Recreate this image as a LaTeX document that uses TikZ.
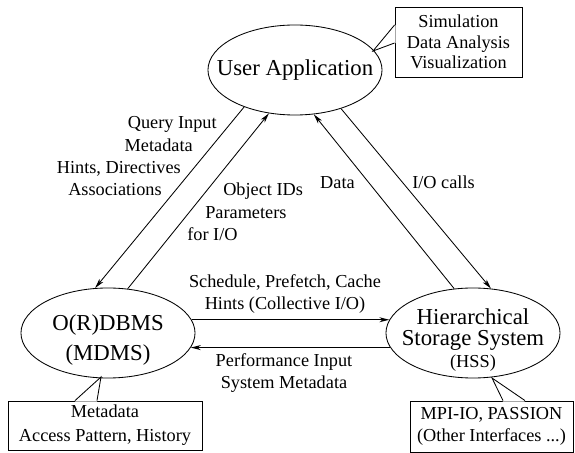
\documentclass[tikz,border=0pt]{standalone}
\usepackage{fontspec}
\setmainfont{Liberation Serif}
\usetikzlibrary{arrows.meta, shapes.geometric}

\tikzset{
  proc/.style={draw, ellipse, line width=0.6pt, minimum width=4.35cm, minimum height=2.25cm, inner sep=0pt},
  proctext/.style={align=center, inner sep=0pt, font=\fontsize{16.2}{15}\selectfont},
  note/.style={draw, line width=0.6pt, align=center, inner sep=0pt, font=\fontsize{13}{15.5}\selectfont},
  lbl/.style={inner sep=0pt, font=\fontsize{13}{15.5}\selectfont},
  flow/.style={line width=0.6pt, -{Stealth[length=7pt, width=3.5pt, inset=2pt]}},
  bus/.style={flow, line width=1pt},
  pointer/.style={line width=0.6pt}
}

\begin{document}
\begin{tikzpicture}[x=0.025cm, y=-0.025cm]
  \useasboundingbox (0,0) rectangle (575,453);
  \node (ua) at (295,70) [proc] {};
  \node (uatext) at (295,70) [proctext] {User Application};
  \node (db) at (108,333) [proc] {};
  \node (dbtext) at (108,340) [proctext, font=\fontsize{16.2}{21}\selectfont] {O(R)DBMS\\(MDMS)};
  \node (hss) at (473,333) [proc] {};
  \node (hsstext) at (473,340) [proctext] {Hierarchical\\Storage System\\[1pt]{\fontsize{13}{15}\selectfont(HSS)}};

  \node (appnote) at (458.5,42) [note, minimum width=3.175cm, minimum height=1.75cm, font=\fontsize{13}{14.5}\selectfont] {Simulation\\Data Analysis\\Visualization};
  \node (dbnote) at (105,425.5) [note, minimum width=4.85cm, minimum height=1.225cm, font=\fontsize{13}{17}\selectfont] {Metadata\\Access Pattern, History};
  \node (hssnote) at (491.5,426.5) [note, minimum width=4.075cm, minimum height=1.275cm] {MPI-IO, PASSION\\(Other Interfaces ...)};

  \coordinate (apptip) at (373,51);
  \coordinate (appa) at (appnote.west |- 0,25);
  \coordinate (appb) at (appnote.west |- 0,43);
  \fill [white] ([xshift=0.8pt]appa) -- (apptip) -- ([xshift=0.8pt]appb) -- cycle;
  \draw [pointer] (appa) -- (apptip) -- (appb);

  \coordinate (dbtip) at (101,377);
  \coordinate (dba) at (dbnote.north -| 75,0);
  \coordinate (dbb) at (dbnote.north -| 97,0);
  \fill [white] ([yshift=-0.8pt]dba) -- (dbtip) -- ([yshift=-0.8pt]dbb) -- cycle;
  \draw [pointer] (dba) -- (dbtip) -- (dbb);

  \coordinate (hsstip) at (492,378);
  \coordinate (hssa) at (hssnote.north -| 503,0);
  \coordinate (hssb) at (hssnote.north -| 525,0);
  \fill [white] ([yshift=-0.8pt]hssa) -- (hsstip) -- ([yshift=-0.8pt]hssb) -- cycle;
  \draw [pointer] (hssa) -- (hsstip) -- (hssb);

  \draw [flow] (ua.216) -- (db.106);
  \draw [flow] (db.66) -- (ua.239);
  \draw [flow] (hss.113) -- (ua.293);
  \draw [flow] (ua.320) -- (hss.68);
  \draw [bus] (db.9) -- (db.9 -| hss.171);
  \draw [bus] (hss.190) -- (hss.190 -| db.350);

  \node (q1) at (217,129) [lbl, anchor=base east] {Query Input};
  \node (q2) at (193,152) [lbl, anchor=base east] {Metadata};
  \node (q3) at (181,174) [lbl, anchor=base east] {Hints, Directives};
  \node (q4) at (162,196) [lbl, anchor=base east] {Associations};
  \node (o1) at (223,196) [lbl, anchor=base west] {Object IDs};
  \node (o2) at (205,219) [lbl, anchor=base west] {Parameters};
  \node (o3) at (187,241) [lbl, anchor=base west] {for I/O};
  \node (data) at (337.5,189) [lbl, anchor=base] {Data};
  \node (calls) at (443.5,189) [lbl, anchor=base] {I/O calls};
  \node (sched) at (285,294) [lbl, align=center] {Schedule, Prefetch, Cache\\Hints (Collective I/O)};
  \node (perf) at (284,373) [lbl, align=center] {Performance Input\\System Metadata};
\end{tikzpicture}
\end{document}
